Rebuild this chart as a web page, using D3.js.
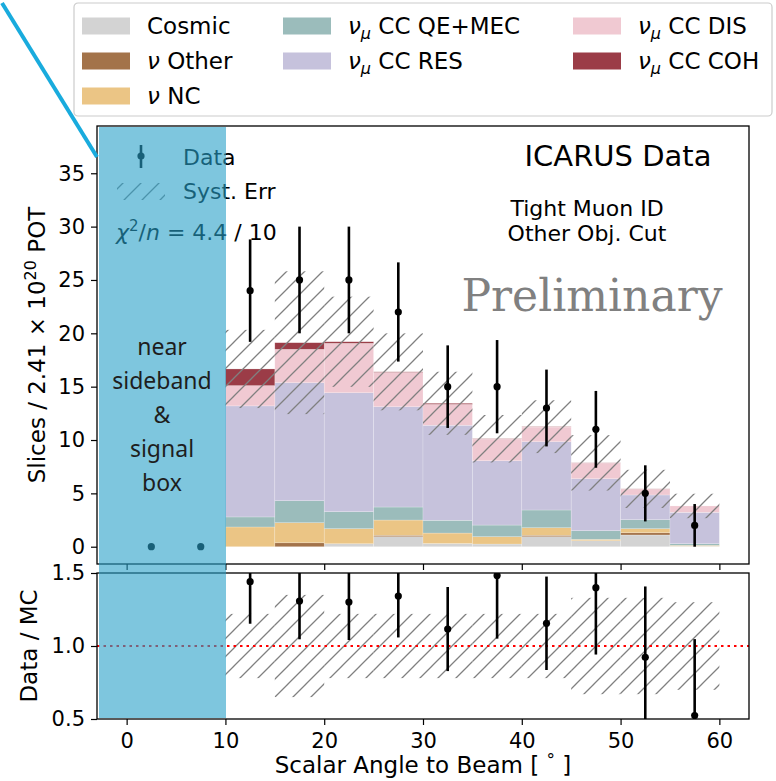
<!DOCTYPE html>
<html>
<head>
<meta charset="utf-8">
<script src="https://cdn.jsdelivr.net/npm/d3@7"></script>
<style>
body { margin: 0; background: #fff; }
svg { display: block; font-family: "DejaVu Sans", sans-serif; }
</style>
</head>
<body>
<svg id="chart" width="776" height="781"></svg>
<script>

// bin edges in degrees, one value per bin below
var binEdges = [0, 5, 10, 15, 20, 25, 30, 35, 40, 45, 50, 55, 60];

// stacked MC, bottom to top
var cosmic  = [0, 0, 0.00, 0.00, 0.28, 0.94, 0.30, 0.25, 0.94, 0.56, 1.10, 0.05];
var nuOther = [0, 0, 0.00, 0.37, 0.00, 0.13, 0.00, 0.00, 0.13, 0.00, 0.21, 0.00];
var nuNC    = [0, 0, 1.85, 1.88, 1.41, 1.43, 0.98, 0.69, 0.71, 0.13, 0.38, 0.08];
var ccQE    = [0, 0, 0.94, 2.06, 1.59, 1.22, 1.19, 1.09, 1.66, 0.81, 0.84, 0.15];
var ccRES   = [0, 0, 10.41, 11.06, 11.15, 9.40, 8.91, 6.03, 6.40, 4.87, 2.32, 2.94];
var ccDIS   = [0, 0, 1.90, 3.13, 4.63, 3.22, 1.96, 2.03, 1.38, 1.47, 0.55, 0.60];
var ccCOH   = [0, 0, 1.56, 0.62, 0.15, 0.05, 0.10, 0.03, 0.03, 0.02, 0.02, 0.00];

var dataCounts = [0, 0, 24, 25, 25, 22, 15, 15, 13, 11, 5, 2];
var dataErr    = [0, 0, 4.8, 5.0, 5.0, 4.65, 3.87, 4.37, 3.6, 3.6, 2.63, 2.0];
var systFrac   = [0, 0, 0.22, 0.35, 0.22, 0.22, 0.22, 0.22, 0.22, 0.33, 0.33, 0.30];

var xTicks = [0, 10, 20, 30, 40, 50, 60];
var yTicks = [0, 5, 10, 15, 20, 25, 30, 35];
var ratioTicks = [0.5, 1.0, 1.5];

var keys = ["cosmic", "other", "nc", "qe", "res", "dis", "coh"];
var colors = {
	cosmic: "#d3d3d3", other: "#a3734a", nc: "#ebc585", qe: "#9bbcbb",
	res: "#c6c2dc", dis: "#f0c9d2", coh: "#9b3c47"
};

var table = binEdges.slice(0, -1).map(function(lo, i) {
	return {
		lo: lo, hi: binEdges[i + 1],
		cosmic: cosmic[i], other: nuOther[i], nc: nuNC[i], qe: ccQE[i],
		res: ccRES[i], dis: ccDIS[i], coh: ccCOH[i],
		data: dataCounts[i], err: dataErr[i], syst: systFrac[i]
	};
});
table.forEach(function(d) {
	d.mc = keys.reduce(function(s, k) { return s + d[k]; }, 0);
	d.ratio = d.mc > 0 ? d.data / d.mc : null;
});

var svg = d3.select("#chart");

var x = d3.scaleLinear().domain([-3, 63]).range([97, 749]);
var y = d3.scaleLinear().domain([-1.62, 39.43]).range([564, 126]);
var yr = d3.scaleLinear().domain([0.5, 1.5]).range([719, 573]);

var defs = svg.append("defs");
defs.append("pattern")
	.attr("id", "hatch")
	.attr("patternUnits", "userSpaceOnUse")
	.attr("width", 18).attr("height", 18)
	.append("path")
	.attr("d", "M-4.5,4.5 l9,-9 M0,18 l18,-18 M13.5,22.5 l9,-9")
	.attr("stroke", "#808080")
	.attr("stroke-width", 1.3);
defs.append("clipPath").attr("id", "clipMain")
	.append("rect").attr("x", 97).attr("y", 126).attr("width", 652).attr("height", 438);
defs.append("clipPath").attr("id", "clipRatio")
	.append("rect").attr("x", 97).attr("y", 573).attr("width", 652).attr("height", 146);

// ---------------- main panel ----------------
var main = svg.append("g").attr("clip-path", "url(#clipMain)");

var stacked = d3.stack().keys(keys)(table);
main.selectAll("g.layer")
	.data(stacked)
	.enter()
	.append("g")
	.attr("class", "layer")
	.attr("fill", function(s) { return colors[s.key]; })
	.selectAll("rect")
	.data(function(s) { return s; })
	.enter()
	.append("rect")
	.attr("x", function(d) { return x(d.data.lo); })
	.attr("width", function(d) { return x(d.data.hi) - x(d.data.lo); })
	.attr("y", function(d) { return y(d[1]); })
	.attr("height", function(d) { return Math.max(0, y(d[0]) - y(d[1])); })
	.attr("stroke", "rgba(255,255,255,0.35)")
	.attr("stroke-width", 0.6);

main.selectAll("rect.syst")
	.data(table.filter(function(d) { return d.mc > 0; }))
	.enter()
	.append("rect")
	.attr("class", "syst")
	.attr("x", function(d) { return x(d.lo); })
	.attr("width", function(d) { return x(d.hi) - x(d.lo); })
	.attr("y", function(d) { return y(d.mc * (1 + d.syst)); })
	.attr("height", function(d) { return y(d.mc * (1 - d.syst)) - y(d.mc * (1 + d.syst)); })
	.attr("fill", "url(#hatch)");

main.selectAll("line.err")
	.data(table)
	.enter()
	.append("line")
	.attr("x1", function(d) { return x((d.lo + d.hi) / 2); })
	.attr("x2", function(d) { return x((d.lo + d.hi) / 2); })
	.attr("y1", function(d) { return y(d.data + d.err); })
	.attr("y2", function(d) { return y(d.data - d.err); })
	.attr("stroke", "#000")
	.attr("stroke-width", 2.6);
main.selectAll("circle.pt")
	.data(table)
	.enter()
	.append("circle")
	.attr("cx", function(d) { return x((d.lo + d.hi) / 2); })
	.attr("cy", function(d) { return y(d.data); })
	.attr("r", 3.6)
	.attr("fill", "#000");

// ---------------- ratio panel ----------------
var rat = svg.append("g").attr("clip-path", "url(#clipRatio)");
var withMC = table.filter(function(d) { return d.mc > 0; });

rat.selectAll("rect.syst")
	.data(withMC)
	.enter()
	.append("rect")
	.attr("x", function(d) { return x(d.lo); })
	.attr("width", function(d) { return x(d.hi) - x(d.lo); })
	.attr("y", function(d) { return yr(1 + d.syst); })
	.attr("height", function(d) { return yr(1 - d.syst) - yr(1 + d.syst); })
	.attr("fill", "url(#hatch)");

rat.append("line")
	.attr("x1", 97).attr("x2", 749)
	.attr("y1", yr(1)).attr("y2", yr(1))
	.attr("stroke", "#ff0000")
	.attr("stroke-width", 2)
	.attr("stroke-dasharray", "2.5,4");

rat.selectAll("line.err")
	.data(withMC)
	.enter()
	.append("line")
	.attr("x1", function(d) { return x((d.lo + d.hi) / 2); })
	.attr("x2", function(d) { return x((d.lo + d.hi) / 2); })
	.attr("y1", function(d) { return yr(d.ratio + d.err / d.mc); })
	.attr("y2", function(d) { return yr(d.ratio - d.err / d.mc); })
	.attr("stroke", "#000")
	.attr("stroke-width", 2.6);
rat.selectAll("circle.pt")
	.data(withMC)
	.enter()
	.append("circle")
	.attr("cx", function(d) { return x((d.lo + d.hi) / 2); })
	.attr("cy", function(d) { return yr(d.ratio); })
	.attr("r", 3.6)
	.attr("fill", "#000");

// ---------------- axes ----------------
function styleAxis(g) {
	g.select(".domain").remove();
	g.selectAll(".tick line").attr("stroke", "#000").attr("stroke-width", 1.2);
	g.selectAll("text").attr("font-size", 21).attr("font-family", "DejaVu Sans").attr("fill", "#000");
}

svg.append("g")
	.attr("transform", "translate(97,0)")
	.call(d3.axisLeft(y).tickValues(yTicks).tickSize(6).tickPadding(6))
	.call(styleAxis);
svg.append("g")
	.attr("transform", "translate(0,564)")
	.call(d3.axisBottom(x).tickValues(xTicks).tickSize(6).tickFormat(""))
	.call(styleAxis);
svg.append("g")
	.attr("transform", "translate(97,0)")
	.call(d3.axisLeft(yr).tickValues(ratioTicks).tickSize(6).tickPadding(6).tickFormat(d3.format(".1f")))
	.call(styleAxis);
svg.append("g")
	.attr("transform", "translate(0,719)")
	.call(d3.axisBottom(x).tickValues(xTicks).tickSize(6).tickPadding(8))
	.call(styleAxis);

svg.append("rect").attr("x", 97).attr("y", 126).attr("width", 652).attr("height", 438)
	.attr("fill", "none").attr("stroke", "#000").attr("stroke-width", 1.3);
svg.append("rect").attr("x", 97).attr("y", 573).attr("width", 652).attr("height", 146)
	.attr("fill", "none").attr("stroke", "#000").attr("stroke-width", 1.3);

// axis labels
var yl = svg.append("text")
	.attr("transform", "translate(45,345) rotate(-90)")
	.attr("text-anchor", "middle")
	.attr("font-size", 23);
yl.append("tspan").text("Slices / 2.41 \u00d7 10");
yl.append("tspan").attr("dy", -9).attr("font-size", 16).text("20");
yl.append("tspan").attr("dy", 9).text(" POT");

svg.append("text")
	.attr("transform", "translate(37,646) rotate(-90)")
	.attr("text-anchor", "middle")
	.attr("font-size", 23)
	.text("Data / MC");

var xl = svg.append("text")
	.attr("x", 423).attr("y", 773)
	.attr("text-anchor", "middle")
	.attr("font-size", 23);
xl.append("tspan").text("Scalar Angle to Beam [ ");
xl.append("tspan").attr("dy", -7).attr("font-size", 17).text("\u00b0");
xl.append("tspan").attr("dy", 7).text(" ]");

// ---------------- annotations ----------------
svg.append("text").attr("x", 618).attr("y", 166).attr("text-anchor", "middle")
	.attr("font-size", 29).text("ICARUS Data");
svg.append("text").attr("x", 587).attr("y", 216).attr("text-anchor", "middle")
	.attr("font-size", 22).text("Tight Muon ID");
svg.append("text").attr("x", 587).attr("y", 241).attr("text-anchor", "middle")
	.attr("font-size", 22).text("Other Obj. Cut");
svg.append("text").attr("x", 592).attr("y", 311).attr("text-anchor", "middle")
	.attr("font-family", "DejaVu Serif").attr("font-size", 44).attr("fill", "#808080")
	.text("Preliminary");

// inner legend
svg.append("line").attr("x1", 141).attr("x2", 141).attr("y1", 145).attr("y2", 168)
	.attr("stroke", "#000").attr("stroke-width", 2.6);
svg.append("circle").attr("cx", 141).attr("cy", 156).attr("r", 3.6).attr("fill", "#000");
svg.append("text").attr("x", 183).attr("y", 165).attr("font-size", 22).text("Data");
svg.append("rect").attr("x", 117).attr("y", 183).attr("width", 48).attr("height", 17)
	.attr("fill", "url(#hatch)");
svg.append("text").attr("x", 183).attr("y", 199).attr("font-size", 22).text("Syst. Err");
var chi = svg.append("text").attr("x", 116).attr("y", 240).attr("font-size", 22);
chi.append("tspan").attr("font-style", "italic").text("\u03c7");
chi.append("tspan").attr("dy", -9).attr("font-size", 15).text("2");
chi.append("tspan").attr("dy", 9).text("/");
chi.append("tspan").attr("font-style", "italic").text("n");
chi.append("tspan").text(" = 4.4 / 10");

// ---------------- top legend ----------------
var legendItems = [
	{ key: "cosmic", col: 0, row: 0, label: ["", "", "Cosmic"] },
	{ key: "other",  col: 0, row: 1, label: ["\u03bd", "", " Other"] },
	{ key: "nc",     col: 0, row: 2, label: ["\u03bd", "", " NC"] },
	{ key: "qe",     col: 1, row: 0, label: ["\u03bd", "\u03bc", " CC QE+MEC"] },
	{ key: "res",    col: 1, row: 1, label: ["\u03bd", "\u03bc", " CC RES"] },
	{ key: "dis",    col: 2, row: 0, label: ["\u03bd", "\u03bc", " CC DIS"] },
	{ key: "coh",    col: 2, row: 1, label: ["\u03bd", "\u03bc", " CC COH"] }
];
var colX = [82, 283, 573];
var rowY = [26, 61, 96];

svg.append("rect").attr("x", 74).attr("y", 3).attr("width", 698).attr("height", 113)
	.attr("rx", 4).attr("fill", "#fff").attr("fill-opacity", 0.8)
	.attr("stroke", "#cccccc").attr("stroke-width", 1.2);

var leg = svg.selectAll("g.leg")
	.data(legendItems)
	.enter()
	.append("g")
	.attr("transform", function(d) { return "translate(" + colX[d.col] + "," + rowY[d.row] + ")"; });
leg.append("rect").attr("x", 0).attr("y", -8.5).attr("width", 48).attr("height", 17)
	.attr("fill", function(d) { return colors[d.key]; });
leg.each(function(d) {
	var t = d3.select(this).append("text").attr("x", 65).attr("y", 8).attr("font-size", 23);
	if (d.label[0]) t.append("tspan").attr("font-style", "italic").text(d.label[0]);
	if (d.label[1]) {
		t.append("tspan").attr("font-style", "italic").attr("font-size", 16).attr("dy", 5).text(d.label[1]);
		t.append("tspan").attr("dy", -5).text(d.label[2]);
	} else {
		t.append("tspan").text(d.label[2]);
	}
});

// ---------------- highlight box + pointer ----------------
svg.append("rect").attr("x", 99).attr("y", 127).attr("width", 127).attr("height", 591)
	.attr("fill", "rgb(40,160,200)").attr("fill-opacity", 0.6);

var box = svg.append("text").attr("text-anchor", "middle")
	.attr("font-family", "Noto Sans").attr("font-size", 23).attr("fill", "#1e1e1e");
["near", "sideband", "&", "signal", "box"].forEach(function(s, i) {
	box.append("tspan").attr("x", 162).attr("y", 355 + i * 34).text(s);
});

svg.append("line").attr("x1", 2).attr("y1", 3).attr("x2", 97).attr("y2", 157)
	.attr("stroke", "#19abdd").attr("stroke-width", 4);

</script>
</body>
</html>
